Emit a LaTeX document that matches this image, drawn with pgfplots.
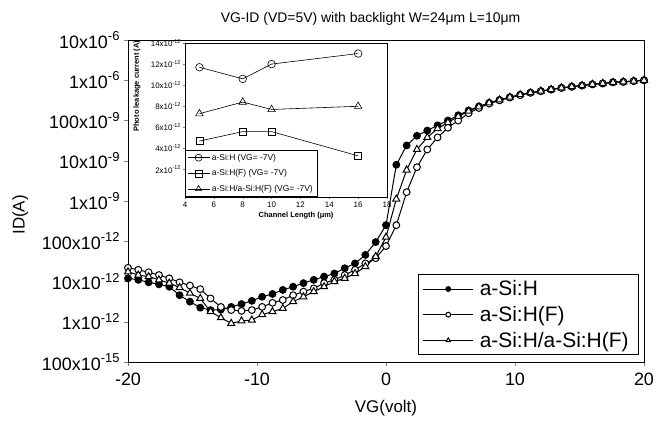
\documentclass[border=0pt]{standalone}
\usepackage{fontspec}
\setmainfont{Liberation Sans}
\usepackage{pgfplots}
\usepackage{pgfplotstable}
\pgfplotsset{compat=1.18}

% VG  a-Si:H  a-Si:H(F)  a-Si:H/a-Si:H(F)
\pgfplotstableread{
V     A         B         C
-20.0 1.20e-11  2.19e-11  1.74e-11
-19.2 1.10e-11  1.95e-11  1.45e-11
-18.4 9.55e-12  1.70e-11  1.32e-11
-17.6 8.51e-12  1.45e-11  1.10e-11
-16.8 7.41e-12  1.20e-11  9.12e-12
-16.0 4.57e-12  9.55e-12  7.08e-12
-15.2 3.16e-12  7.94e-12  5.13e-12
-14.4 2.24e-12  6.46e-12  3.80e-12
-13.6 1.95e-12  3.80e-12  1.78e-12
-12.8 2.00e-12  2.34e-12  1.26e-12
-12.0 2.34e-12  1.95e-12  9.12e-13
-11.2 2.75e-12  1.86e-12  1.05e-12
-10.4 3.31e-12  1.95e-12  1.10e-12
-9.6  4.17e-12  2.34e-12  1.51e-12
-8.8  4.90e-12  2.95e-12  1.78e-12
-8.0  6.17e-12  3.47e-12  2.14e-12
-7.2  7.41e-12  4.57e-12  3.16e-12
-6.4  9.12e-12  5.62e-12  4.17e-12
-5.6  1.10e-11  6.76e-12  5.62e-12
-4.8  1.32e-11  9.12e-12  7.41e-12
-4.0  1.58e-11  1.10e-11  1.00e-11
-3.2  2.14e-11  1.45e-11  1.20e-11
-2.4  2.82e-11  1.95e-11  1.58e-11
-1.6  4.57e-11  2.82e-11  2.34e-11
-0.8  9.55e-11  3.80e-11  4.17e-11
0.0   2.51e-10  7.59e-11  1.26e-10
0.8   7.94e-09  2.51e-10  1.12e-09
1.6   2.40e-08  1.66e-09  5.89e-09
2.4   4.17e-08  6.92e-09  1.91e-08
3.2   5.62e-08  1.91e-08  3.80e-08
4.0   7.59e-08  3.80e-08  6.31e-08
4.8   1.00e-07  6.61e-08  8.91e-08
5.6   1.35e-07  1.00e-07  1.26e-07
6.4   1.78e-07  1.51e-07  1.70e-07
7.2   2.24e-07  2.04e-07  2.19e-07
8.0   2.75e-07  2.63e-07  2.75e-07
8.8   3.24e-07  3.16e-07  3.24e-07
9.6   3.80e-07  3.72e-07  3.80e-07
10.4  4.37e-07  4.27e-07  4.37e-07
11.2  4.90e-07  4.90e-07  4.90e-07
12.0  5.37e-07  5.37e-07  5.37e-07
12.8  5.89e-07  5.89e-07  5.89e-07
13.6  6.46e-07  6.46e-07  6.46e-07
14.4  6.92e-07  6.92e-07  6.92e-07
15.2  7.41e-07  7.41e-07  7.41e-07
16.0  7.94e-07  7.94e-07  7.94e-07
16.8  8.32e-07  8.32e-07  8.32e-07
17.6  8.91e-07  8.91e-07  8.91e-07
18.4  9.12e-07  9.12e-07  9.12e-07
19.2  9.55e-07  9.55e-07  9.55e-07
20.0  1.00e-06  1.00e-06  1.00e-06
}\idvg

% inset: photo leakage current vs channel length (VG = -7 V)
\pgfplotstableread{
L   A        B        C
5   11.7e-12 4.7e-12  7.3e-12
8   10.6e-12 5.6e-12  8.4e-12
10  12.0e-12 5.6e-12  7.7e-12
16  13.0e-12 3.3e-12  8.0e-12
}\leak

\newcommand{\sci}[2]{#1x10\raisebox{0.42em}{\fontsize{13}{13}\selectfont #2}}
\newcommand{\scs}[2]{#1x10\raisebox{0.4em}{\fontsize{5.5}{5.5}\selectfont #2}}

\begin{document}
\begin{tikzpicture}
\path[use as bounding box] (-128bp,-64bp) rectangle (535bp,362bp);
\begin{axis}[
  at={(0,0)}, anchor=south west,
  width=516bp, height=322bp, scale only axis,
  xmin=-20, xmax=20, ymode=log, ymin=1e-13, ymax=1e-5,
  xtick={-20,-10,0,10,20}, xticklabels={-20,-10,0,10,20},
  ytick={1e-13,1e-12,1e-11,1e-10,1e-9,1e-8,1e-7,1e-6,1e-5},
  yticklabels={\sci{100}{-15},\sci{1}{-12},\sci{10}{-12},\sci{100}{-12},
    \sci{1}{-9},\sci{10}{-9},\sci{100}{-9},\sci{1}{-6},\sci{10}{-6}},
  yminorticks=false,
  tick align=outside, tick pos=left, major tick length=4bp,
  ticklabel style={font=\fontsize{18}{18}\selectfont},
  xticklabel shift=3bp, yticklabel shift=1bp,
  axis line style={line width=0.8bp},
  xlabel={VG(volt)}, ylabel={ID(A)},
  label style={font=\fontsize{17}{17}\selectfont},
  xlabel style={at={(axis description cs:0.5,0)}, anchor=center, yshift=-46bp},
  ylabel style={at={(axis description cs:-0.209,0.457)}, anchor=center},
  title={VG-ID (VD=5V) with backlight W=24μm L=10μm},
  title style={font=\fontsize{14}{14}\selectfont, at={(0.47,1)}, anchor=south, yshift=5bp},
  legend style={font=\fontsize{21}{23}\selectfont, at={(0.990,0.022)}, anchor=south east,
    draw=black, line width=0.6bp, inner xsep=4bp, inner ysep=4bp, row sep=5bp,
    nodes={inner xsep=6bp}},
  legend cell align=left,
  legend image code/.code={\draw[#1, mark size=2.4bp, mark repeat=2, mark phase=2]
    plot coordinates {(0bp,0bp) (25bp,0bp) (50bp,0bp)};},
  every axis plot/.append style={line width=1bp, black},
]
\addplot[mark=*, mark size=3.4bp, mark options={fill=black}] table[x=V, y=A] {\idvg};
\addlegendentry{a-Si:H}
\addplot[mark=*, mark size=3.4bp, mark options={fill=white}] table[x=V, y=B] {\idvg};
\addlegendentry{a-Si:H(F)}
\addplot[mark=triangle*, mark size=4bp, mark options={fill=white}] table[x=V, y=C] {\idvg};
\addlegendentry{a-Si:H/a-Si:H(F)}
\end{axis}

\begin{axis}[
  at={(57bp,165bp)}, anchor=south west,
  width=202bp, height=154bp, scale only axis,
  axis background/.style={fill=white},
  xmin=4, xmax=18, ymin=-0.6e-12, ymax=14e-12,
  xtick={4,6,...,18},
  ytick={2e-12,4e-12,6e-12,8e-12,10e-12,12e-12,14e-12},
  yticklabels={\scs{2}{-12},\scs{4}{-12},\scs{6}{-12},\scs{8}{-12},\scs{10}{-12},\scs{12}{-12},\scs{14}{-12}},
  scaled y ticks=false,
  tick align=outside, tick pos=left, major tick length=2bp,
  ticklabel style={font=\fontsize{8}{8}\selectfont},
  xticklabel style={/pgf/number format/assume math mode=true},
  xticklabel shift=-1bp, yticklabel shift=-1bp,
  axis line style={line width=0.6bp},
  xlabel={\textbf{Channel Length (μm)}}, ylabel={\textbf{Photo leakage current (A)}},
  label style={font=\fontsize{7.5}{7.5}\selectfont},
  xlabel style={at={(axis description cs:0.55,0)}, anchor=center, yshift=-19bp},
  ylabel style={at={(axis description cs:-0.238,0.72)}, anchor=center},
  legend style={font=\fontsize{8.5}{9}\selectfont, at={(0,0)}, anchor=south west,
    draw=black, line width=0.5bp, inner xsep=2bp, inner ysep=2bp, row sep=4bp},
  legend cell align=left,
  legend image code/.code={\draw[#1, mark size=3.5bp, mark repeat=2, mark phase=2]
    plot coordinates {(0bp,0bp) (11bp,0bp) (22bp,0bp)};},
  every axis plot/.append style={line width=0.6bp, black},
]
\addplot[mark=o, mark size=3.8bp] table[x=L, y=A] {\leak};
\addlegendentry{a-Si:H (VG= -7V)}
\addplot[mark=square, mark size=3.6bp] table[x=L, y=B] {\leak};
\addlegendentry{a-Si:H(F) (VG= -7V)}
\addplot[mark=triangle, mark size=4.3bp] table[x=L, y=C] {\leak};
\addlegendentry{a-Si:H/a-Si:H(F) (VG= -7V)}
\end{axis}
\end{tikzpicture}
\end{document}
